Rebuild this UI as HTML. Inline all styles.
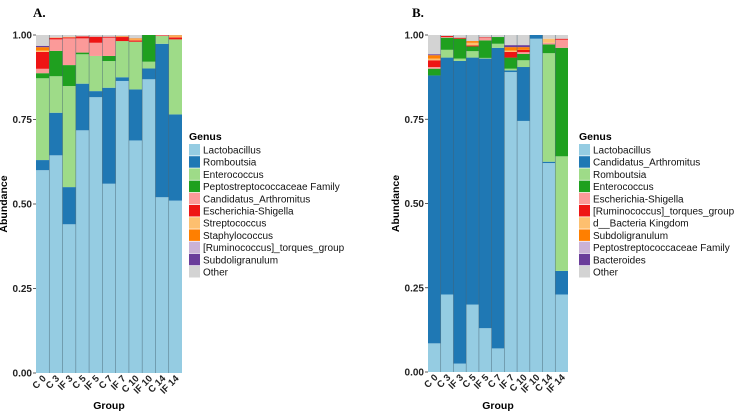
<!DOCTYPE html>
<html><head><meta charset="utf-8">
<style>
body{margin:0;background:#fff;width:735px;height:417px;overflow:hidden;font-family:"Liberation Sans",sans-serif}
svg{display:block}
</style></head>
<body>
<svg id="chart" width="735" height="417" xmlns="http://www.w3.org/2000/svg">
<text x="33" y="17" font-family="Liberation Serif" font-weight="bold" font-size="13">A.</text>
<text x="412" y="17" font-family="Liberation Serif" font-weight="bold" font-size="13">B.</text>
</svg>
<script>
const groups = ["C 0","C 3","IF 3","C 5","IF 5","C 7","IF 7","C 10","IF 10","C 14","IF 14"];
const yTicks = [0,0.25,0.5,0.75,1];
const yTickLabels = ["0.00","0.25","0.50","0.75","1.00"];
// Panel A
const genusA = ["Lactobacillus","Romboutsia","Enterococcus","Peptostreptococcaceae Family","Candidatus_Arthromitus","Escherichia-Shigella","Streptococcus","Staphylococcus","[Ruminococcus]_torques_group","Subdoligranulum","Other"];
const colorsA = ["#95cce2","#1f78b4","#9edb88","#1fa01f","#fb9a99","#ee1414","#fdbf6f","#ff7f00","#cab2d6","#6a3d9a","#d3d3d3"];
const aLacto   = [0.60,0.644,0.44,0.718,0.816,0.56,0.864,0.688,0.869,0.52,0.51];
const aRombo   = [0.03,0.126,0.11,0.138,0.018,0.284,0.011,0.151,0.032,0.454,0.255];
const aEntero  = [0.242,0.108,0.299,0.087,0.104,0.079,0.107,0.141,0.02,0.023,0.222];
const aPepto   = [0.015,0.075,0.062,0.005,0,0.015,0,0,0.079,0,0];
const aCandid  = [0.013,0.034,0.079,0.042,0.039,0.054,0,0,0,0,0];
const aEsch    = [0.05,0.004,0.003,0.006,0.018,0.003,0.012,0.004,0,0.002,0.006];
const aStrep   = [0.004,0.002,0.002,0,0,0,0,0.003,0,0,0.003];
const aStaph   = [0.01,0,0,0,0,0,0.002,0.003,0,0,0.003];
const aRumino  = [0,0.002,0,0,0,0,0,0,0,0,0];
const aSubdo   = [0.004,0,0,0,0,0,0,0,0,0,0];
const aOther   = [0.032,0.005,0.005,0.004,0.005,0.005,0.004,0.01,0,0.001,0.001];
const seriesA = [aLacto,aRombo,aEntero,aPepto,aCandid,aEsch,aStrep,aStaph,aRumino,aSubdo,aOther];
// Panel B
const genusB = ["Lactobacillus","Candidatus_Arthromitus","Romboutsia","Enterococcus","Escherichia-Shigella","[Ruminococcus]_torques_group","d__Bacteria Kingdom","Subdoligranulum","Peptostreptococcaceae Family","Bacteroides","Other"];
const colorsB = ["#95cce2","#1f78b4","#9edb88","#1fa01f","#fb9a99","#ee1414","#fdbf6f","#ff7f00","#cab2d6","#6a3d9a","#d3d3d3"];
const bLacto   = [0.085,0.23,0.025,0.20,0.13,0.07,0.89,0.745,0.989,0.62,0.23];
const bCandid  = [0.795,0.703,0.898,0.733,0.80,0.892,0.005,0.16,0.011,0.004,0.07];
const bRombo   = [0,0.023,0.007,0.019,0.002,0.012,0.005,0.02,0,0.322,0.34];
const bEntero  = [0.02,0.036,0.059,0.014,0.052,0.02,0.033,0.019,0,0.026,0.322];
const bEsch    = [0.005,0.002,0,0,0.007,0,0,0.005,0,0.005,0.024];
const bRumino  = [0.02,0.003,0.003,0.003,0.002,0,0.017,0.007,0,0,0.003];
const bBact    = [0.005,0,0,0.008,0,0,0.004,0,0,0.012,0];
const bSubdo   = [0.01,0,0,0.005,0,0,0.01,0.008,0,0,0];
const bPepto   = [0,0,0,0,0,0,0,0,0,0,0];
const bBacter  = [0.003,0,0,0,0,0,0.006,0.006,0,0,0];
const bOther   = [0.057,0.003,0.008,0.018,0.007,0.006,0.03,0.03,0,0.011,0.011];
const seriesB = [bLacto,bCandid,bRombo,bEntero,bEsch,bRumino,bBact,bSubdo,bPepto,bBacter,bOther];

const NS="http://www.w3.org/2000/svg";
const svg=document.getElementById('chart');
function mk(tag,attrs,parent){const e=document.createElementNS(NS,tag);for(const k in attrs)e.setAttribute(k,attrs[k]);(parent||svg).appendChild(e);return e;}

function panel(p){
  const g=mk('g',{});
  
  
  const bw=(p.x1-p.x0)/groups.length;
  const xs=i=>p.x0+i*bw;
  const ys=v=>p.y0-(p.y0-p.y1)*v;
  groups.forEach((grp,i)=>{
    let cum=0;
    p.series.forEach((s,k)=>{
      const v=s[i]; if(v<=0){return;}
      const r=mk('rect',{x:xs(i),y:ys(cum+v),width:bw,height:ys(cum)-ys(cum+v),fill:p.colors[k]},g);
      
      
      cum+=v;
    });
    if(i>0){
      const l=mk('line',{x1:xs(i),x2:xs(i),y1:p.y0,y2:ys(Math.min(cum,1)),stroke:'#3a5a6a','stroke-width':0.6,'stroke-opacity':0.7},g);
      
      
    }
    const t=mk('text',{x:0,y:0,'font-size':9.5,'font-weight':'bold','text-anchor':'end',fill:'#222',transform:`translate(${xs(i)+bw/2+4},${p.y0+6}) rotate(-45)`},g);
    t.textContent=grp;
    
    
  });
  yTicks.forEach((v,j)=>{
    const tk=mk('line',{x1:p.x0-3,x2:p.x0,y1:ys(v),y2:ys(v),stroke:'#333','stroke-width':0.8},g);
    
    
    const t=mk('text',{x:p.x0-4,y:ys(v)+3.5,'font-size':10,'font-weight':'bold','text-anchor':'end',fill:'#222'},g);
    t.textContent=yTickLabels[j];
    
    
  });
  const yt=mk('text',{x:0,y:0,'font-size':10.5,'font-weight':'bold','text-anchor':'middle',transform:`translate(${p.x0-29},${(p.y0+p.y1)/2}) rotate(-90)`},g);
  yt.textContent='Abundance';
  
  
  const xt=mk('text',{x:(p.x0+p.x1)/2,y:409,'font-size':10.5,'font-weight':'bold','text-anchor':'middle'},g);
  xt.textContent='Group';
  
  
  const lg=mk('g',{},g);
  
  
  const lt=mk('text',{x:p.lx,y:140,'font-size':10.5,'font-weight':'bold'},lg);
  lt.textContent='Genus';
  
  
  p.names.forEach((n,k)=>{
    const y=144+k*12.2;
    const sw=mk('rect',{x:p.lx,y:y,width:11,height:11.5,fill:p.colors[k]},lg);
    
    
    const t=mk('text',{x:p.lx+14,y:y+9.5,'font-size':10,fill:'#111'},lg);
    t.textContent=n;
    
    
  });
}
panel({id:'panel-a',x0:36,x1:182,y0:373,y1:35,series:seriesA,colors:colorsA,names:genusA,lx:189});
panel({id:'panel-b',x0:428,x1:568,y0:372,y1:35,series:seriesB,colors:colorsB,names:genusB,lx:579});
</script>
</body></html>
